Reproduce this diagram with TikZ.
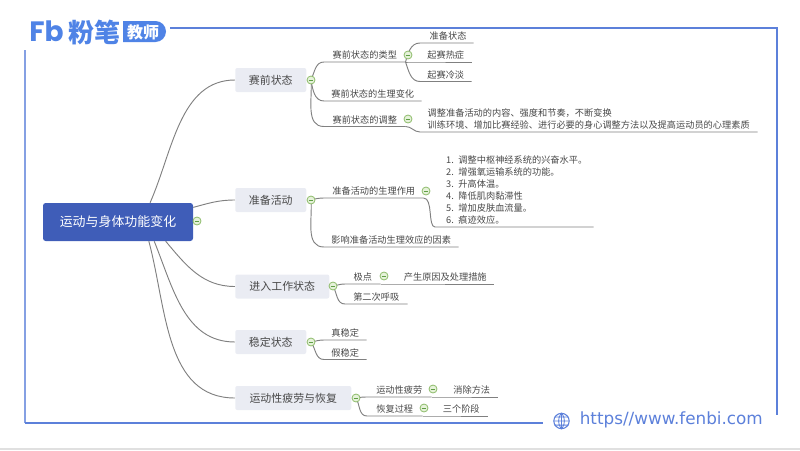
\documentclass[tikz,border=0pt]{standalone}
\usepackage{fontspec}
\setmainfont{Noto Sans CJK SC}
\newfontfamily\urlfont{DejaVu Sans}
\newfontfamily\logofont{Poppins}
\pgfdeclarelayer{background}
\pgfsetlayers{background,main}
\definecolor{framecol}{HTML}{5C80DA}
\definecolor{logocol}{HTML}{4F83E6}
\definecolor{rootcol}{HTML}{3F5DB8}
\definecolor{topiccol}{HTML}{EAECF3}
\definecolor{inkcol}{HTML}{484848}
\definecolor{linecol}{HTML}{808080}
\definecolor{togglecol}{HTML}{8DBB6A}
\definecolor{minuscol}{HTML}{5F9E45}
\definecolor{togglefill}{HTML}{E6F2DA}
\tikzstyle{root} = [rectangle,rounded corners=2pt,fill=rootcol,text=white,minimum width=112.5pt,minimum height=28.5pt,inner sep=0pt,font=\fontsize{9.7}{12}\selectfont]
\tikzstyle{topic} = [rectangle,rounded corners=1.5pt,fill=topiccol,text=inkcol,anchor=west,minimum height=18pt,inner sep=0pt,font=\fontsize{8.2}{10}\selectfont]
\tikzstyle{leaf} = [anchor=south west,text=inkcol,inner xsep=0pt,inner ysep=1.5pt,align=left,font=\fontsize{6.9}{9}\selectfont]
\tikzstyle{toggle} = [circle,draw=togglecol,fill=togglefill,line width=0.6pt,minimum size=6pt,inner sep=0pt,
  path picture={\draw[minuscol,line width=0.5pt] ([xshift=1.2pt]path picture bounding box.west) -- ([xshift=-1.2pt]path picture bounding box.east);}]
\tikzstyle{branch} = [draw=linecol,line width=0.7pt]
\tikzstyle{frameline} = [draw=framecol,line width=1.2pt]
\begin{document}
\begin{tikzpicture}[x=0.75pt,y=-0.75pt]
\useasboundingbox (0,0) rectangle (800,450);
\fill[black!12] (0,448) rectangle (800,450);

% the frame and the logo
\coordinate (frametop) at (170,28);
\coordinate (framecorner) at (777,28);
\coordinate (frameend) at (777,415);
\coordinate (leftstart) at (25,50);
\coordinate (leftcorner) at (25,423);
\coordinate (bottomend) at (543,423);
\draw[frameline] (frametop) -- (framecorner) -- (frameend);
\draw[frameline,draw=framecol!75] (leftstart) -- (leftcorner);
\draw[frameline] (leftcorner) -- (bottomend);
\node[text=logocol,inner sep=0pt,font=\logofont\bfseries\fontsize{21}{21}\selectfont] (logofb) at (46.5,31) {Fb};
\node[text=logocol,inner sep=0pt,font=\bfseries\fontsize{19.5}{20}\selectfont] (logoname) at (94,32) {粉笔};
\fill[logocol] (123,21) -- (155.5,21) arc (-90:90:10.5) -- (123,42) -- cycle;
\node[text=white,inner sep=0pt,font=\bfseries\fontsize{12}{12}\selectfont] (logotag) at (143,32) {教师};

% the web address
\node[circle,draw=framecol,line width=0.8pt,minimum size=11.5pt,inner sep=0pt] (globe) at (561.5,421) {};
\draw[framecol,line width=0.6pt] (globe.north) -- (globe.south) (globe.west) -- (globe.east)
  (globe.north) to[bend left=38] (globe.south) (globe.north) to[bend right=38] (globe.south)
  (globe.150) -- (globe.30) (globe.210) -- (globe.330);
\node[text=framecol,anchor=west,inner sep=0pt,font=\urlfont\fontsize{12.6}{14}\selectfont] (url) at (579.5,420) {https//www.fenbi.com};

% root and main topics
\node[root] (root) at (118,222) {运动与身体功能变化};
\foreach \ypos/\wid/\name/\txt in {80/71/pre/赛前状态, 200/71/warm/准备活动, 286.5/94/enter/进入工作状态, 342/71/steady/稳定状态, 398/116/fatigue/运动性疲劳与恢复}
\node[topic,minimum width=\wid*0.75pt] (\name) at (235,\ypos) {\raisebox{-0.6pt}{\txt}};

% leaves, each one sits on its own underline
\foreach \xpos/\ypos/\wid/\name/\txt in {
  324/62/81/ptype/赛前状态的类型, 420/43/53/pready/\hspace{2pt}准备状态, 420/62/51/pfever/起赛热症, 420/81.5/51/pcold/起赛冷淡,
  324/101/97/pchange/赛前状态的生理变化, 324/126.5/81/padjust/赛前状态的调整,
  324/198/99/wrole/准备活动的生理作用, 324/247/134/wfactor/影响准备活动生理效应的因素,
  345/284/35/epole/极点, 397/284/96/ecause/产生原因及处理措施, 345/304/62/ebreath/第二次呼吸,
  324/340/42/strue/真稳定, 324/359.5/42/sfalse/假稳定,
  367/397/64/ftired/运动性疲劳, 446/397/51/fremove/消除方法, 367/416/55/frest/恢复过程, 435/416/52/fstage/三个阶段}
\node[leaf,minimum width=\wid*0.75pt] (\name) at (\xpos,\ypos) {\txt};
\node[leaf,text width=337*0.75pt] (pmethod) at (420,132) {\hspace{5.6pt}调整准备活动的内容、强度和节奏，不断变换\\\hspace{5.6pt}训练环境、增加比赛经验、进行必要的身心调整方法以及提高运动员的心理素质};
\node[leaf,text width=158*0.75pt] (wlist) at (435,227) {\hspace{8.2pt}1. 调整中枢神经系统的兴奋水平。\\\hspace{8.2pt}2. 增强氧运输系统的功能。\\\hspace{8.2pt}3. 升高体温。\\\hspace{8.2pt}4. 降低肌肉黏滞性\\\hspace{8.2pt}5. 增加皮肤血流量。\\\hspace{8.2pt}6. 痕迹效应。};

% toggles
\foreach \xpos/\ypos/\name in {197/221/troot, 311/80/tpre, 311/200/twarm, 333/286/tenter, 311/342/tsteady, 356/398/tfatigue,
  408/55/ttype, 408/119/tadjust, 426/191/trole, 384/276/tpole, 433/389/ttired, 424/408/trest}
\node[toggle] (\name) at (\xpos,\ypos) {};

\begin{pgfonlayer}{background}
	% connectors from the root
	\draw[branch] (root.31) to[out=66,in=180,looseness=0.95] (pre.west);
	\draw[branch] (root.11) to[out=15,in=180] (warm.west);
	\draw[branch] (root.-22) to[out=-50,in=180] (enter.west);
	\draw[branch] (root.-28) to[out=-68,in=180] (steady.west);
	\draw[branch] (root.-32) to[out=-75,in=180] (fatigue.west);
	\foreach \source/\dest in {pre/tpre, warm/twarm, enter/tenter, steady/tsteady, fatigue/tfatigue}
	\path[branch] (\source.east) -- (\dest.center);

	% connectors to the leaves
	\foreach \source/\dest/\angle in {tpre/ptype/65, tpre/pchange/-80, tpre/padjust/-85, twarm/wrole/15, twarm/wfactor/-85, tenter/epole/10, tenter/ebreath/-60,
	  tsteady/strue/10, tsteady/sfalse/-55, tfatigue/ftired/10, tfatigue/frest/-60}
	\path[branch] (\source.center) to[out=\angle,in=180] (\dest.south west) -- (\dest.south east);
	\foreach \source/\dest/\angle in {ptype/pready/75, ptype/pfever/0, ptype/pcold/-70, padjust/pmethod/0}
	\path[branch] (\source.south east) to[out=\angle,in=180] (\dest.south west) -- (\dest.south east);
	\draw[branch] (wrole.south east) to[out=0,in=180,out looseness=0.8,in looseness=0.6] (wlist.south west) -- (wlist.south east);
	\foreach \source/\dest in {epole/ecause, ftired/fremove, frest/fstage}
	\path[branch] (\source.south east) -- (\dest.south west) -- (\dest.south east);
\end{pgfonlayer}
\end{tikzpicture}
\end{document}
